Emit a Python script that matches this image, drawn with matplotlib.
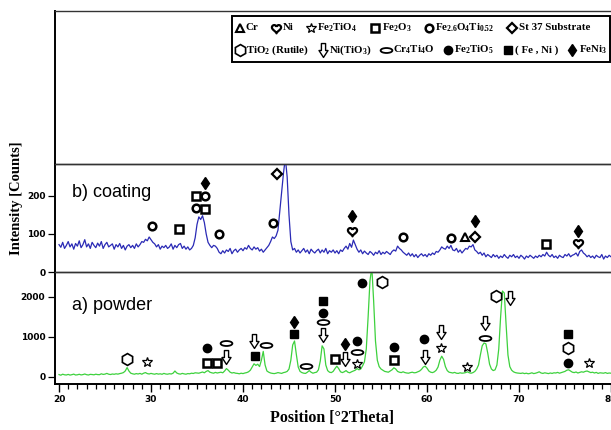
import numpy as np
import matplotlib
matplotlib.use('Agg')
import matplotlib.pyplot as plt
from matplotlib.path import Path
from matplotlib.ticker import MultipleLocator

plt.rcParams['mathtext.default'] = 'regular'

# scan grid (2Theta, step 0.2)
two_theta = np.round(np.arange(20.0, 80.01, 0.2), 1)

# a) powder, counts
powder = [
    60, 45, 70, 55, 50, 65, 48, 58, 72, 50,
    55, 68, 52, 60, 75, 58, 50, 66, 62, 55,
    70, 60, 58, 80, 65, 72, 90, 70, 62, 75,
    68, 80, 72, 85, 95, 110, 150, 235, 150, 95,
    80, 70, 85, 75, 90, 70, 95, 110, 85, 75,
    90, 78, 70, 85, 72, 80, 68, 90, 75, 70,
    82, 75, 95, 150, 100, 80, 72, 90, 78, 70,
    85, 80, 95, 88, 105, 100, 95, 110, 125, 105,
    140, 160, 120, 105, 95, 115, 100, 110, 120, 105,
    150, 210, 170, 120, 100, 110, 95, 90, 80, 95,
    85, 100, 110, 130, 170, 250, 330, 290, 320, 260,
    420, 640, 300, 150, 120, 100, 90, 85, 95, 110,
    100, 90, 110, 120, 140, 200, 420, 800, 900, 560,
    250, 140, 110, 95, 90, 120, 160, 120, 95, 110,
    120, 180, 400, 780, 700, 300, 160, 120, 110, 140,
    210, 270, 210, 130, 110, 130, 160, 120, 105, 130,
    150, 170, 210, 180, 200, 280, 380, 700, 1500, 2400,
    2750, 1900, 900, 420, 260, 200, 170, 140, 130, 120,
    150, 180, 230, 200, 140, 120, 110, 130, 110, 100,
    95, 110, 120, 105, 110, 130, 150, 190, 250, 270,
    220, 150, 120, 110, 130, 170, 250, 420, 520, 440,
    260, 160, 120, 110, 100, 115, 95, 90, 105, 95,
    100, 110, 130, 105, 95, 110, 140, 200, 300, 550,
    780, 850, 830, 600, 320, 200, 160, 180, 300, 700,
    1500, 2150, 2100, 1300, 550, 260, 170, 130, 110, 100,
    95, 90, 100, 85, 95, 80, 90, 105, 85, 95,
    110, 130, 100, 90, 105, 95, 85, 100, 90, 105,
    100, 115, 95, 110, 125, 140, 170, 180, 150, 120,
    110, 125, 100, 115, 130, 120, 140, 150, 130, 110,
    120, 100, 115, 90, 105, 100, 95, 110, 90, 100,
    95,
]

# b) coating, counts
coating = [
    72, 65, 78, 62, 70, 80, 66, 74, 60, 75,
    68, 82, 64, 72, 85, 66, 74, 62, 78, 70,
    64, 76, 68, 80, 62, 72, 78, 66, 70, 74,
    60, 72, 66, 75, 62, 70, 58, 68, 72, 64,
    70, 62, 74, 66, 72, 80, 78, 86, 82, 92,
    85, 78, 74, 66, 72, 60, 68, 64, 70, 62,
    66, 74, 60, 70, 64, 72, 75, 62, 68, 60,
    66, 58, 62, 70, 90, 125, 145, 138, 148, 130,
    100, 78, 70, 64, 70, 68, 62, 52, 48, 56,
    50, 58, 54, 62, 48, 56, 60, 52, 58, 62,
    56, 64, 60, 70, 62, 58, 66, 60, 64, 55,
    60, 52, 58, 64, 70, 80, 92, 88, 95, 110,
    160, 210, 260, 300, 250, 150, 80, 58, 62, 52,
    58, 50, 56, 62, 52, 58, 48, 60, 54, 50,
    56, 60, 50, 58, 52, 62, 48, 56, 52, 58,
    50, 56, 48, 58, 54, 62, 68, 60, 75, 65,
    84, 72, 60, 52, 58, 48, 55, 50, 46, 54,
    50, 44, 52, 48, 56, 46, 52, 48, 54, 50,
    46, 54, 58, 55, 68, 62, 58, 52, 48, 44,
    50, 42, 48, 40, 46, 38, 44, 48, 42, 46,
    40, 48, 44, 50, 46, 54, 52, 58, 66, 62,
    60, 68, 62, 70, 58, 56, 62, 52, 58, 50,
    56, 62, 60, 68, 66, 72, 58, 54, 48, 52,
    44, 50, 40, 46, 42, 38, 46, 40, 44, 36,
    42, 38, 46, 40, 36, 44, 40, 46, 38, 42,
    36, 44, 40, 34, 42, 38, 44, 40, 36, 42,
    38, 44, 40, 46, 42, 52, 44, 40, 46, 38,
    42, 36, 44, 40, 38, 46, 42, 48, 40, 44,
    46, 50, 42, 54, 58, 50, 46, 40, 44, 38,
    42, 36, 44, 40, 38, 46, 34, 42, 38, 44,
    40,
]

# phase markers on the coating pattern
coat_phase = ['Fe26', 'Fe2O3', 'Fe2O3', 'Fe26', 'FeNi3', 'Fe26', 'Fe2O3', 'Fe26',
              'Fe26', 'St37', 'FeNi3', 'Ni', 'Fe26', 'Fe26', 'Cr', 'St37', 'FeNi3',
              'Fe2O3', 'Ni', 'FeNi3']
coat_pos = [30.1, 33.05, 34.86, 35.83, 35.83, 34.86, 35.83, 37.35,
            43.3, 43.7, 51.9, 51.9, 57.35, 62.6, 64.1, 65.2, 65.2,
            72.96, 76.4, 76.4]
coat_cnt = [121, 113, 201, 201, 233, 167, 165, 100,
            130, 258, 147, 109, 91, 89, 93, 93, 134,
            74, 75, 109]

# phase markers on the powder pattern
pow_phase = ['TiO2', 'TiO2', 'TiO2', 'TiO2',
             'Fe2TiO4', 'Fe2TiO4', 'Fe2TiO4', 'Fe2TiO4', 'Fe2TiO4',
             'Fe2TiO5', 'Fe2TiO5', 'Fe2TiO5', 'Fe2TiO5', 'Fe2TiO5', 'Fe2TiO5', 'Fe2TiO5',
             'Fe2O3', 'Fe2O3', 'Fe2O3', 'Fe2O3',
             'Cr4Ti4O', 'Cr4Ti4O', 'Cr4Ti4O', 'Cr4Ti4O', 'Cr4Ti4O', 'Cr4Ti4O',
             'NiTiO3', 'NiTiO3', 'NiTiO3', 'NiTiO3', 'NiTiO3', 'NiTiO3', 'NiTiO3', 'NiTiO3',
             'FeNi', 'FeNi', 'FeNi', 'FeNi',
             'FeNi3', 'FeNi3']
pow_pos = [27.34, 55.07, 67.47, 75.35,
           29.6, 52.43, 61.57, 64.36, 77.6,
           36.1, 48.74, 52.43, 52.9, 56.44, 59.62, 75.35,
           36.1, 37.2, 50.04, 56.44,
           38.2, 42.45, 46.8, 48.74, 52.43, 66.28,
           38.2, 41.2, 48.74, 51.09, 59.73, 61.57, 66.28, 69.02,
           41.3, 45.5, 48.74, 75.35,
           45.5, 51.09]
pow_cnt = [458, 2375, 2025, 725,
           383, 317, 717, 258, 342,
           733, 1608, 900, 2350, 742, 958, 358,
           350, 350, 450, 425,
           858, 808, 275, 1375, 617, 983,
           492, 900, 1050, 450, 508, 1133, 1342, 1983,
           517, 1083, 1892, 1075,
           1383, 825]

legend_row1 = [('Cr', 'Cr'), ('Ni', 'Ni'), ('Fe2TiO4', 'Fe$_2$TiO$_4$'),
               ('Fe2O3', 'Fe$_2$O$_3$'), ('Fe26', 'Fe$_{2.6}$O$_4$Ti$_{0.52}$'),
               ('St37', 'St 37 Substrate')]
legend_row2 = [('TiO2', 'TiO$_2$ (Rutile)'), ('NiTiO3', 'Ni(TiO$_3$)'),
               ('Cr4Ti4O', 'Cr$_4$Ti$_4$O'), ('Fe2TiO5', 'Fe$_2$TiO$_5$'),
               ('FeNi', '( Fe , Ni )'), ('FeNi3', 'FeNi$_3$')]

# marker shapes
t = np.linspace(0, 2 * np.pi, 60)
heart = Path(np.column_stack([16 * np.sin(t) ** 3,
                              13 * np.cos(t) - 5 * np.cos(2 * t) - 2 * np.cos(3 * t) - np.cos(4 * t)]))
arrow = Path([(-0.3, 1), (0.3, 1), (0.3, 0), (0.65, 0), (0, -1), (-0.65, 0), (-0.3, 0), (-0.3, 1)],
             [Path.MOVETO] + [Path.LINETO] * 6 + [Path.CLOSEPOLY])
circ = Path.unit_circle()
ellipse = Path(circ.vertices * [1, 0.42], circ.codes)

open_kw = dict(mfc='white', mec='black')
style = {
    'Cr': dict(marker='^', ms=5.5, mew=1.5, **open_kw),
    'Ni': dict(marker=heart, ms=7, mew=1.6, **open_kw),
    'Fe2TiO4': dict(marker='*', ms=7.5, mew=0.9, **open_kw),
    'Fe2O3': dict(marker='s', ms=5.2, mew=1.8, **open_kw),
    'Fe26': dict(marker='o', ms=5.5, mew=1.8, **open_kw),
    'St37': dict(marker='D', ms=5.0, mew=1.6, **open_kw),
    'TiO2': dict(marker='h', ms=8.5, mew=1.2, **open_kw),
    'NiTiO3': dict(marker=arrow, ms=10, mew=1.0, **open_kw),
    'Cr4Ti4O': dict(marker=ellipse, ms=8.5, mew=1.3, **open_kw),
    'Fe2TiO5': dict(marker='o', ms=6, mfc='black', mec='black'),
    'FeNi': dict(marker='s', ms=5.8, mfc='black', mec='black'),
    'FeNi3': dict(marker='d', ms=6.5, mfc='black', mec='black'),
}

W, H = 611, 430
fig = plt.figure(figsize=(W / 100, H / 100), dpi=100)

x_left, x_right = 55, 615
xlim = (19.565, 80.435)


def panel(top, bottom):
    return fig.add_axes([x_left / W, 1 - bottom / H, (x_right - x_left) / W, (bottom - top) / H])


ax_top = panel(11, 164)
ax_c = panel(164, 272)
ax_p = panel(272, 384)

for ax in (ax_top, ax_c, ax_p):
    ax.set_xlim(*xlim)
    ax.set_facecolor('none')
    for s in ax.spines.values():
        s.set_color('#333333')
        s.set_linewidth(1.0)
    ax.spines['left'].set_color('black')
    ax.spines['left'].set_linewidth(1.4)
    ax.tick_params(axis='x', which='both', bottom=False, labelbottom=False)

ax_top.set_yticks([])

ax_c.plot(two_theta, coating, color='#2a2ab5', lw=0.9)
ax_c.set_ylim(0, 284)
ax_c.set_yticks([0, 100, 200])

ax_p.plot(two_theta, powder, color='#3dd13d', lw=0.9)
ax_p.set_ylim(-175, 2625)
ax_p.set_yticks([0, 1000, 2000])
ax_p.spines['bottom'].set_color('black')
ax_p.spines['bottom'].set_linewidth(1.4)
ax_p.xaxis.set_major_locator(MultipleLocator(10))
ax_p.xaxis.set_minor_locator(MultipleLocator(1))
ax_p.tick_params(axis='x', which='major', bottom=True, labelbottom=True, length=6, width=1.0, pad=2)
ax_p.tick_params(axis='x', which='minor', bottom=True, length=3.5, width=0.9)

for ax in (ax_c, ax_p):
    ax.tick_params(axis='y', length=5, width=0.9, pad=2)
    for lab in ax.get_yticklabels() + ax.get_xticklabels():
        lab.set_fontfamily(['Liberation Sans Narrow', 'DejaVu Sans'])
        lab.set_fontweight('bold')
        lab.set_fontsize(6.5)

for ax, ph, xs, ys in ((ax_c, coat_phase, coat_pos, coat_cnt), (ax_p, pow_phase, pow_pos, pow_cnt)):
    for key, x, y in zip(ph, xs, ys):
        ax.plot(x, y, ls='none', clip_on=False, zorder=5, **style[key])

ax_c.text((72 - x_left) / (x_right - x_left), 0.74, 'b) coating', transform=ax_c.transAxes,
          fontsize=13, family='Liberation Sans', va='center')
ax_p.text((72 - x_left) / (x_right - x_left), 0.705, 'a) powder', transform=ax_p.transAxes,
          fontsize=13, family='Liberation Sans', va='center')

fig.text(17 / W, 1 - 198 / H, 'Intensity [Counts]', rotation=90, ha='center', va='center',
         fontsize=10.5, fontweight='bold', family='Liberation Serif')
fig.text(332 / W, 1 - 418 / H, 'Position [°2Theta]', ha='center', va='center',
         fontsize=11.5, fontweight='bold', family='Liberation Serif')

# legend box drawn on an overlay in pixel units
lax = fig.add_axes([0, 0, 1, 1])
lax.set_xlim(0, W)
lax.set_ylim(H, 0)
lax.axis('off')
lax.add_patch(plt.Rectangle((232, 16), 378, 46, fill=False, ec='black', lw=1.4))
renderer = fig.canvas.get_renderer()


def legend_row(items, y, x0, x1):
    mw = 11
    texts, widths = [], []
    for key, label in items:
        tx = lax.text(0, y, label, fontsize=7.8, fontweight='bold', family='Liberation Serif', va='center')
        texts.append(tx)
        widths.append(tx.get_window_extent(renderer).width)
    total = sum(widths) + len(items) * (mw + 1)
    gap = (x1 - x0 - total) / (len(items) - 1)
    x = x0
    for (key, label), tx, w in zip(items, texts, widths):
        lax.plot(x + mw / 2, y, ls='none', **style[key])
        tx.set_x(x + mw + 1)
        x += mw + 1 + w + gap


legend_row(legend_row1, 28, 234, 590)
legend_row(legend_row2, 50, 234, 607)

fig.savefig('out.png', dpi=100)
